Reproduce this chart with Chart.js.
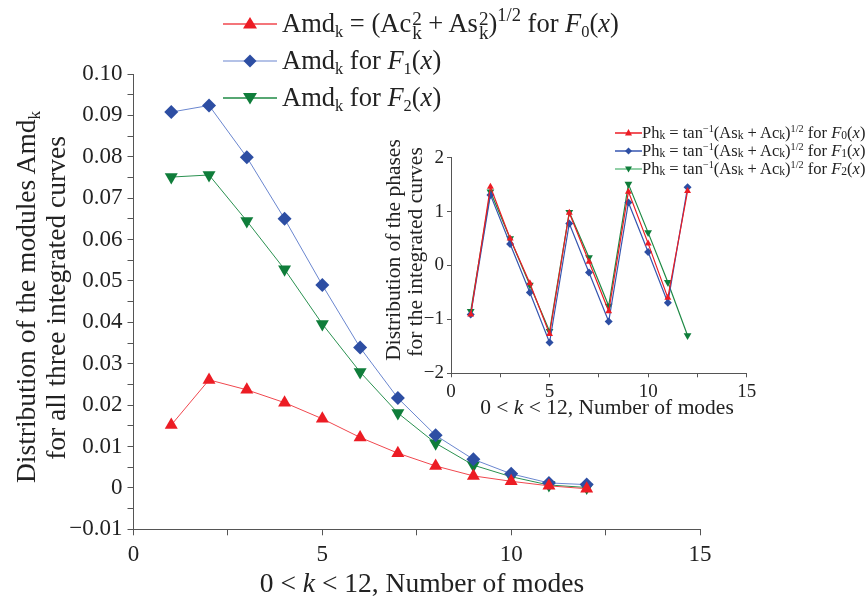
<!DOCTYPE html>
<html>
<head>
<meta charset="utf-8">
<script src="https://cdn.jsdelivr.net/npm/chart.js@4.4.1/dist/chart.umd.min.js"></script>
<style>
  html, body { margin:0; padding:0; background:#fff; }
  #wrap { position:relative; width:867px; height:605px; overflow:hidden; font-family:"Liberation Serif", "DejaVu Serif", serif; color:#222; }
  canvas { position:absolute; }
  .txt { position:absolute; white-space:nowrap; line-height:1; }
  .rot { transform:translate(-50%,-50%) rotate(-90deg); text-align:center; }
  .ctr { transform:translate(-50%,-50%); }
  sub, sup { font-size:0.62em; line-height:0; }
  sub { vertical-align:-0.3em; }
  sup { vertical-align:0.6em; }
  .big sup { font-size:0.7em; }
  .stk { display:inline-block; vertical-align:-0.35em; line-height:0.72; font-size:0.72em; text-align:left; margin-left:1px; }
  .stk span { display:block; }
  .leg { position:absolute; white-space:nowrap; display:flex; align-items:center; }
  .leg svg { display:block; flex:none; }
  .small sub { font-size:0.7em; vertical-align:-0.1em; }
</style>
</head>
<body>
<div id="wrap">
  <canvas id="main" width="867" height="605" style="left:0;top:0;"></canvas>
  <canvas id="inset" width="487" height="300" style="left:380px;top:110px;"></canvas>

  <!-- main legend -->
  <div class="leg big" style="left:222px;top:8px;font-size:26.5px;">
    <svg width="56" height="26"><line x1="1" y1="13" x2="55" y2="13" stroke="#f0474e" stroke-width="1.5"/><polygon points="28,6 35,17.5 21,17.5" fill="#ec1c24"/></svg>
    <span style="margin-left:4px;">Amd<sub>k</sub> = (Ac<span class="stk"><span>2</span><span>k</span></span> + As<span class="stk"><span>2</span><span>k</span></span>)<sup>1/2</sup> for <i>F</i><sub>0</sub>(<i>x</i>)</span>
  </div>
  <div class="leg" style="left:222px;top:45px;font-size:26.5px;">
    <svg width="56" height="26"><line x1="1" y1="13" x2="55" y2="13" stroke="#6a86cf" stroke-width="1.2"/><polygon points="28,6.5 34.5,13 28,19.5 21.5,13" fill="#2d4ea3"/></svg>
    <span style="margin-left:4px;">Amd<sub>k</sub> for <i>F</i><sub>1</sub>(<i>x</i>)</span>
  </div>
  <div class="leg" style="left:222px;top:82px;font-size:26.5px;">
    <svg width="56" height="26"><line x1="1" y1="13" x2="55" y2="13" stroke="#1f8a45" stroke-width="1.5"/><polygon points="21,8 35,8 28,19.5" fill="#0f7d3a"/></svg>
    <span style="margin-left:4px;">Amd<sub>k</sub> for <i>F</i><sub>2</sub>(<i>x</i>)</span>
  </div>

  <!-- main axis titles -->
  <div class="txt rot" style="left:26px;top:297px;font-size:27.5px;">Distribution of the modules Amd<sub>k</sub></div>
  <div class="txt rot" style="left:56px;top:298px;font-size:27.5px;">for all three integrated curves</div>
  <div class="txt ctr" style="left:422px;top:583px;font-size:27.5px;">0 &lt; <i>k</i> &lt; 12, Number of modes</div>

  <!-- inset legend -->
  <div class="leg small" style="left:615px;top:123px;font-size:16.5px;">
    <svg width="27" height="16"><line x1="0" y1="8" x2="27" y2="8" stroke="#ec1c24" stroke-width="1.5"/><polygon points="13.5,4 17,10.5 10,10.5" fill="#ec1c24"/></svg>
    <span>Ph<sub>k</sub> = tan<sup>−1</sup>(As<sub>k</sub> + Ac<sub>k</sub>)<sup>1/2</sup> for <i>F</i><sub>0</sub>(<i>x</i>)</span>
  </div>
  <div class="leg small" style="left:615px;top:141px;font-size:16.5px;">
    <svg width="27" height="16"><line x1="0" y1="8" x2="27" y2="8" stroke="#3656b0" stroke-width="1.5"/><polygon points="13.5,4.5 17,8 13.5,11.5 10,8" fill="#2d4ea3"/></svg>
    <span>Ph<sub>k</sub> = tan<sup>−1</sup>(As<sub>k</sub> + Ac<sub>k</sub>)<sup>1/2</sup> for <i>F</i><sub>1</sub>(<i>x</i>)</span>
  </div>
  <div class="leg small" style="left:615px;top:159px;font-size:16.5px;">
    <svg width="27" height="16"><line x1="0" y1="8" x2="27" y2="8" stroke="#6cc08a" stroke-width="1.5"/><polygon points="10,5.5 17,5.5 13.5,11.5" fill="#0f7d3a"/></svg>
    <span>Ph<sub>k</sub> = tan<sup>−1</sup>(As<sub>k</sub> + Ac<sub>k</sub>)<sup>1/2</sup> for <i>F</i><sub>2</sub>(<i>x</i>)</span>
  </div>

  <!-- inset axis titles -->
  <div class="txt rot" style="left:394px;top:250px;font-size:21.5px;">Distribution of the phases</div>
  <div class="txt rot" style="left:416px;top:252px;font-size:21.5px;">for the integrated curves</div>
  <div class="txt ctr" style="left:607px;top:408px;font-size:21.5px;">0 &lt; <i>k</i> &lt; 12, Number of modes</div>
</div>

<script>
// mode number k
const modes = [1, 2, 3, 4, 5, 6, 7, 8, 9, 10, 11, 12];

// amplitude modules Amd_k
const amdF0 = [0.0152, 0.0261, 0.0237, 0.0206, 0.0167, 0.0122, 0.0084, 0.0053, 0.0029, 0.0016, 0.0005, -0.0002];
const amdF1 = [0.0908, 0.0924, 0.0799, 0.0650, 0.0490, 0.0339, 0.0217, 0.0127, 0.0069, 0.0034, 0.0012, 0.0008];
const amdF2 = [0.0751, 0.0756, 0.0645, 0.0528, 0.0396, 0.0280, 0.0181, 0.0108, 0.0055, 0.0027, 0.0007, 0.0001];

// phases Ph_k
const phF0 = [-0.91, 1.46, 0.50, -0.33, -1.27, 0.98, 0.07, -0.85, 1.37, 0.41, -0.60, 1.38];
const phF1 = [-0.91, 1.31, 0.40, -0.50, -1.43, 0.78, -0.13, -1.04, 1.17, 0.25, -0.69, 1.45];
const phF2 = [-0.85, 1.37, 0.50, -0.36, -1.22, 0.99, 0.15, -0.75, 1.51, 0.61, -0.31, -1.30];

const mainXTicks = [0, 5, 10, 15];
const mainYTicks = [-0.01, 0, 0.01, 0.02, 0.03, 0.04, 0.05, 0.06, 0.07, 0.08, 0.09, 0.10];
const insetXTicks = [0, 5, 10, 15];
const insetYTicks = [-2, -1, 0, 1, 2];

const serif = '"Liberation Serif", "DejaVu Serif", serif';
const axisCol = '#555';
const textCol = '#222';

function pts(ys) {
  return modes.map((k, i) => ({ x: k, y: ys[i] }));
}
function isIn(list, v) {
  return list.some(t => Math.abs(t - v) < 1e-9);
}
function fmtNum(v, digits) {
  if (Math.abs(v) < 1e-9) return '0';
  const s = Math.abs(v).toFixed(digits);
  return v < 0 ? '\u2212' + s : s;
}

Chart.defaults.animation = false;
Chart.defaults.font.family = serif;

new Chart(document.getElementById('main'), {
  type: 'line',
  data: {
    datasets: [
      { data: pts(amdF0), borderColor: '#f0474e', borderWidth: 1, backgroundColor: '#ec1c24',
        pointStyle: 'triangle', pointRadius: 7.5, pointBorderWidth: 0 },
      { data: pts(amdF1), borderColor: '#6a86cf', borderWidth: 1, backgroundColor: '#2d4ea3',
        pointStyle: 'rectRot', pointRadius: 7, pointBorderWidth: 0 },
      { data: pts(amdF2), borderColor: '#2a9150', borderWidth: 1, backgroundColor: '#0f7d3a',
        pointStyle: 'triangle', pointRotation: 180, pointRadius: 7.5, pointBorderWidth: 0 }
    ]
  },
  options: {
    responsive: false,
    layout: { padding: { top: 74, right: 167, left: 0, bottom: 0 } },
    plugins: { legend: { display: false }, tooltip: { enabled: false } },
    scales: {
      x: {
        type: 'linear', min: 0, max: 15,
        afterFit: s => { s.height = 75.7; },
        ticks: { stepSize: 2.5, autoSkip: false, maxRotation: 0, padding: 6, color: textCol,
          font: { size: 23 }, callback: v => isIn(mainXTicks, v) ? String(v) : '' },
        grid: { drawOnChartArea: false, tickLength: 6, tickColor: axisCol },
        border: { color: axisCol, width: 1 }
      },
      y: {
        min: -0.01, max: 0.10,
        afterFit: s => { s.width = 133.5; },
        ticks: { stepSize: 0.005, autoSkip: false, padding: 5, color: textCol,
          font: { size: 23 }, callback: v => isIn(mainYTicks, v) ? fmtNum(v, 2) : '' },
        grid: { drawOnChartArea: false, tickLength: 6, tickColor: axisCol },
        border: { color: axisCol, width: 1 }
      }
    }
  }
});

new Chart(document.getElementById('inset'), {
  type: 'line',
  data: {
    datasets: [
      { data: pts(phF0), borderColor: '#ec1c24', borderWidth: 1.2, backgroundColor: '#ec1c24',
        pointStyle: 'triangle', pointRadius: 4, pointBorderWidth: 0 },
      { data: pts(phF1), borderColor: '#3656b0', borderWidth: 1.2, backgroundColor: '#2d4ea3',
        pointStyle: 'rectRot', pointRadius: 4, pointBorderWidth: 0 },
      { data: pts(phF2), borderColor: '#1f8a45', borderWidth: 1.2, backgroundColor: '#0f7d3a',
        pointStyle: 'triangle', pointRotation: 180, pointRadius: 4.5, pointBorderWidth: 0 }
    ]
  },
  options: {
    responsive: false,
    layout: { padding: { top: 47.7, right: 120.3, left: 0, bottom: 0 } },
    plugins: { legend: { display: false }, tooltip: { enabled: false } },
    scales: {
      x: {
        type: 'linear', min: 0, max: 15,
        afterFit: s => { s.height = 300 - 263.3; },
        ticks: { stepSize: 2.5, autoSkip: false, maxRotation: 0, padding: 3, color: textCol,
          font: { size: 19 }, callback: v => isIn(insetXTicks, v) ? String(v) : '' },
        grid: { drawOnChartArea: false, tickLength: 4, tickColor: axisCol },
        border: { color: axisCol, width: 1 }
      },
      y: {
        min: -2, max: 2,
        afterFit: s => { s.width = 71; },
        ticks: { stepSize: 1, autoSkip: false, padding: 3, color: textCol,
          font: { size: 19 }, callback: v => isIn(insetYTicks, v) ? fmtNum(v, 0) : '' },
        grid: { drawOnChartArea: false, tickLength: 4, tickColor: axisCol },
        border: { color: axisCol, width: 1 }
      }
    }
  }
});
</script>
</body>
</html>
